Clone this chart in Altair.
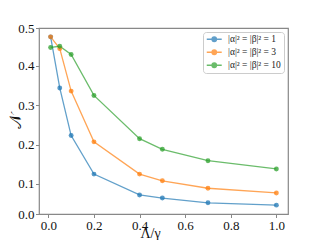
import altair as alt
import pandas as pd

x_vals = [0.01, 0.05, 0.1, 0.2, 0.4, 0.5, 0.7, 1.0]
series_1 = [0.474, 0.344, 0.223, 0.125, 0.072, 0.064, 0.052, 0.046]
series_3 = [0.474, 0.444, 0.336, 0.207, 0.125, 0.108, 0.089, 0.077]
series_10 = [0.447, 0.450, 0.429, 0.325, 0.215, 0.188, 0.159, 0.138]
labels = ["|α|² = |β|² = 1", "|α|² = |β|² = 3", "|α|² = |β|² = 10"]
colors = ["#1f77b4", "#ff7f0e", "#2ca02c"]
y_ticks = [0.0235, 0.1, 0.2, 0.3, 0.4, 0.4965]
x_ticks = [0.0, 0.2, 0.4, 0.6, 0.8, 1.0]

rows = []
for lab, vals in zip(labels, [series_1, series_3, series_10]):
    for i, (x, y) in enumerate(zip(x_vals, vals)):
        rows.append({"x": x, "y": y, "s": lab, "i": i})
df = pd.DataFrame(rows)

FONT = "Liberation Serif"
sym = "M-2,0H2M-0.6,0A0.6,0.6,0,1,1,0.6,0A0.6,0.6,0,1,1,-0.6,0Z"

xs = alt.Scale(domain=[-0.041, 1.051], nice=False, zero=False)
ys = alt.Scale(domain=[0.0235, 0.4965], nice=False, zero=False)
cs = alt.Scale(domain=labels, range=colors)

leg = alt.Legend(title=None, orient="top-right", offset=4,
                 symbolType=sym, symbolSize=56, symbolStrokeWidth=1.3,
                 symbolOpacity=0.7, symbolOffset=4)

xenc = alt.X("x:Q", scale=xs, axis=alt.Axis(values=x_ticks, format=".1f", title="Λ/γ",
                                             titleX=111, titleY=12, titleBaseline="top",
                                             titleFontSize=14,
                                             titleFontWeight="normal", labelOverlap=False))
yenc = alt.Y("y:Q", scale=ys, axis=alt.Axis(values=y_ticks, format=".1f", title="𝒩",
                                             titleFont="DejaVu Serif",
                                             titleX=-24, titleY=93, titleAngle=-90,
                                             titleAlign="center", titleBaseline="middle",
                                             titleFontSize=16,
                                             titleFontWeight="normal", labelOverlap=False,
                                             labelBound=False))

base = alt.Chart(df).encode(x=xenc, y=yenc)

lines = base.mark_line(strokeWidth=1.3, opacity=0.7).encode(
    stroke=alt.Stroke("s:N", scale=cs, sort=labels, legend=leg),
    order="i:Q",
)
points = base.mark_point(size=24, opacity=0.75, filled=True, strokeWidth=0).encode(
    fill=alt.Fill("s:N", scale=cs, sort=labels, legend=leg)
)

chart = alt.layer(lines, points).properties(
    width=249, height=186,
    autosize=alt.AutoSizeParams(type="none"),
    padding={"left": 31, "top": 20, "right": 20, "bottom": 30},
).configure_view(stroke="#888888", strokeWidth=1.2).configure_axis(
    grid=False, domain=False, tickColor="#888888", tickSize=3.5, tickWidth=1,
    labelFont=FONT, labelFontSize=13, labelColor="#111111", titleFont=FONT, titleColor="#111111",
    labelPadding=1.5, labelOverlap=False, labelFlush=False,
).configure_legend(
    labelFont=FONT, labelFontSize=9.5, labelColor="#222222", strokeColor="#cccccc", fillColor="white",
    cornerRadius=3, padding=2.5, rowPadding=2, labelOffset=9,
)

chart.save("out.html", embed_options={"renderer": "svg", "actions": False})
